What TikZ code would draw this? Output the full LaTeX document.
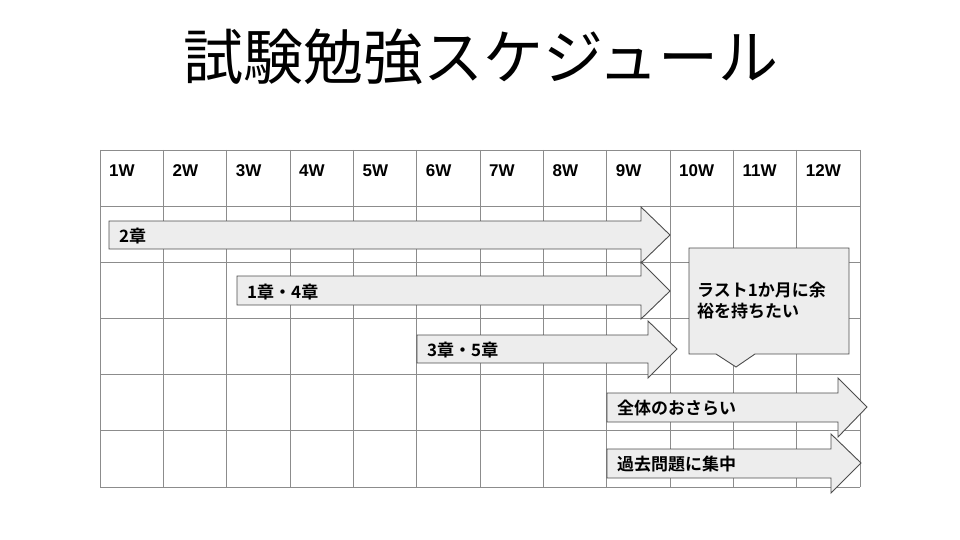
\documentclass[tikz,border=0pt]{standalone}
\usepackage{fontspec}
\setmainfont{Noto Sans CJK JP}[BoldFont={Noto Sans CJK JP Bold}]
\newfontfamily\weekfont{Liberation Sans}
\definecolor{gridline}{HTML}{8C8C8C}
\definecolor{boxline}{HTML}{4D4D4D}
\definecolor{boxfill}{HTML}{EDEDED}
\tikzset{
  weekcell/.style={font=\weekfont\bfseries\fontsize{17}{19}\selectfont,anchor=west,inner sep=0pt},
  arrowbox/.style={draw=boxline,fill=boxfill,line width=0.9pt,line join=miter},
  arrowlabel/.style={font=\bfseries\fontsize{17}{21}\selectfont,anchor=west,inner sep=0pt},
}
\begin{document}
\begin{tikzpicture}[x=1pt,y=-1pt]
  \useasboundingbox (0,0) rectangle (960,540);
  \node (title) at (481,57) {\fontsize{60}{62}\selectfont 試験勉強スケジュール};
  % grid of weeks
  \foreach \i in {0,...,12}
    \draw[gridline,line width=0.8pt] (100+\i*63.333,150) -- (100+\i*63.333,487);
  \foreach \j in {0,...,6}
    \draw[gridline,line width=0.8pt] (100,150+\j*56.17) -- (860,150+\j*56.17);
  \foreach \i in {1,...,12}
    \node[weekcell] (w\i) at (\i*63.333+45.7,171) {\i W};
  % arrows
  \draw[arrowbox] (109,221) -- (641,221) -- (641,207) -- (670,235) -- (641,263) -- (641,249) -- (109,249) -- cycle;
  \node[arrowlabel] (ch2) at (119,236) {2章};
  \draw[arrowbox] (237,276) -- (641,276) -- (641,262) -- (670,291) -- (641,319) -- (641,305) -- (237,305) -- cycle;
  \node[arrowlabel] (ch14) at (247,292) {1章・4章};
  \draw[arrowbox] (417,335) -- (648,335) -- (648,321) -- (677,349) -- (648,378) -- (648,363) -- (417,363) -- cycle;
  \node[arrowlabel] (ch35) at (427,350) {3章・5章};
  \draw[arrowbox] (607,393) -- (838,393) -- (838,378) -- (867,407) -- (838,437) -- (838,422) -- (607,422) -- cycle;
  \node[arrowlabel] (review) at (617,408) {全体のおさらい};
  \draw[arrowbox] (607,449) -- (831,449) -- (831,434) -- (861,463) -- (831,493) -- (831,478) -- (607,478) -- cycle;
  \node[arrowlabel] (past) at (617,464) {過去問題に集中};
  % callout
  \draw[arrowbox] (689,248) -- (849,248) -- (849,354) -- (755,354) -- (736,367) -- (716,354) -- (689,354) -- cycle;
  \node[arrowlabel,align=left] (memo) at (697,301) {ラスト1か月に余\\裕を持ちたい};
\end{tikzpicture}
\end{document}
